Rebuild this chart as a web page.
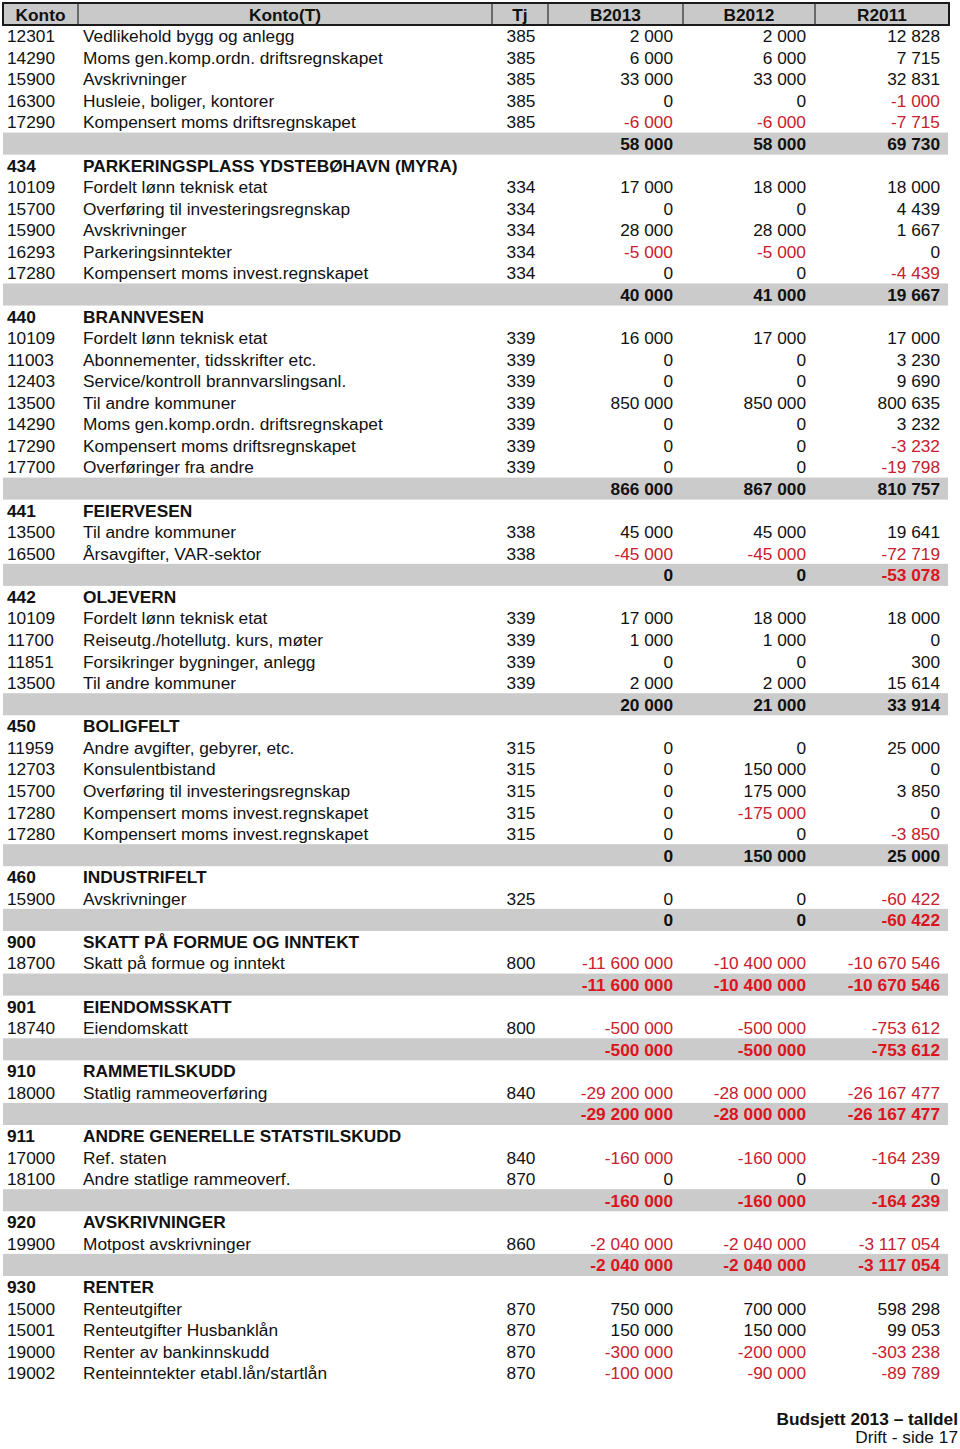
<!DOCTYPE html>
<html>
<head>
<meta charset="utf-8">
<script src="https://cdn.jsdelivr.net/npm/d3@7"></script>
<style>
  body { margin: 0; background: #fff; }
  svg text { font-family: 'Liberation Sans', Arial, Helvetica, sans-serif; }
</style>
</head>
<body>
<div id="table"></div>
<script>
// Column headers
const headers = ['Konto', 'Konto(T)', 'Tj', 'B2013', 'B2012', 'R2011'];

// Row kind: d = detail line, h = section heading, t = section total
const rowKind = [
  'd', 'd', 'd', 'd', 'd', 't',
  'h', 'd', 'd', 'd', 'd', 'd', 't',
  'h', 'd', 'd', 'd', 'd', 'd', 'd', 'd', 't',
  'h', 'd', 'd', 't',
  'h', 'd', 'd', 'd', 'd', 't',
  'h', 'd', 'd', 'd', 'd', 'd', 't',
  'h', 'd', 't',
  'h', 'd', 't',
  'h', 'd', 't',
  'h', 'd', 't',
  'h', 'd', 'd', 't',
  'h', 'd', 't',
  'h', 'd', 'd', 'd', 'd',
];

const konto = [
  '12301', '14290', '15900', '16300', '17290', '',
  '434', '10109', '15700', '15900', '16293', '17280', '',
  '440', '10109', '11003', '12403', '13500', '14290', '17290', '17700', '',
  '441', '13500', '16500', '',
  '442', '10109', '11700', '11851', '13500', '',
  '450', '11959', '12703', '15700', '17280', '17280', '',
  '460', '15900', '',
  '900', '18700', '',
  '901', '18740', '',
  '910', '18000', '',
  '911', '17000', '18100', '',
  '920', '19900', '',
  '930', '15000', '15001', '19000', '19002',
];

const kontoT = [
  'Vedlikehold bygg og anlegg', 'Moms gen.komp.ordn. driftsregnskapet', 'Avskrivninger',
  'Husleie, boliger, kontorer', 'Kompensert moms driftsregnskapet', '',
  'PARKERINGSPLASS YDSTEBØHAVN (MYRA)', 'Fordelt lønn teknisk etat',
  'Overføring til investeringsregnskap', 'Avskrivninger', 'Parkeringsinntekter',
  'Kompensert moms invest.regnskapet', '',
  'BRANNVESEN', 'Fordelt lønn teknisk etat', 'Abonnementer, tidsskrifter etc.',
  'Service/kontroll brannvarslingsanl.', 'Til andre kommuner',
  'Moms gen.komp.ordn. driftsregnskapet', 'Kompensert moms driftsregnskapet',
  'Overføringer fra andre', '',
  'FEIERVESEN', 'Til andre kommuner', 'Årsavgifter, VAR-sektor', '',
  'OLJEVERN', 'Fordelt lønn teknisk etat', 'Reiseutg./hotellutg. kurs, møter',
  'Forsikringer bygninger, anlegg', 'Til andre kommuner', '',
  'BOLIGFELT', 'Andre avgifter, gebyrer, etc.', 'Konsulentbistand',
  'Overføring til investeringsregnskap', 'Kompensert moms invest.regnskapet',
  'Kompensert moms invest.regnskapet', '',
  'INDUSTRIFELT', 'Avskrivninger', '',
  'SKATT PÅ FORMUE OG INNTEKT', 'Skatt på formue og inntekt', '',
  'EIENDOMSSKATT', 'Eiendomskatt', '',
  'RAMMETILSKUDD', 'Statlig rammeoverføring', '',
  'ANDRE GENERELLE STATSTILSKUDD', 'Ref. staten', 'Andre statlige rammeoverf.', '',
  'AVSKRIVNINGER', 'Motpost avskrivninger', '',
  'RENTER', 'Renteutgifter', 'Renteutgifter Husbanklån', 'Renter av bankinnskudd',
  'Renteinntekter etabl.lån/startlån',
];

const tj = [
  '385', '385', '385', '385', '385', '',
  '', '334', '334', '334', '334', '334', '',
  '', '339', '339', '339', '339', '339', '339', '339', '',
  '', '338', '338', '',
  '', '339', '339', '339', '339', '',
  '', '315', '315', '315', '315', '315', '',
  '', '325', '',
  '', '800', '',
  '', '800', '',
  '', '840', '',
  '', '840', '870', '',
  '', '860', '',
  '', '870', '870', '870', '870',
];

const b2013 = [
  2000, 6000, 33000, 0, -6000, 58000,
  null, 17000, 0, 28000, -5000, 0, 40000,
  null, 16000, 0, 0, 850000, 0, 0, 0, 866000,
  null, 45000, -45000, 0,
  null, 17000, 1000, 0, 2000, 20000,
  null, 0, 0, 0, 0, 0, 0,
  null, 0, 0,
  null, -11600000, -11600000,
  null, -500000, -500000,
  null, -29200000, -29200000,
  null, -160000, 0, -160000,
  null, -2040000, -2040000,
  null, 750000, 150000, -300000, -100000,
];

const b2012 = [
  2000, 6000, 33000, 0, -6000, 58000,
  null, 18000, 0, 28000, -5000, 0, 41000,
  null, 17000, 0, 0, 850000, 0, 0, 0, 867000,
  null, 45000, -45000, 0,
  null, 18000, 1000, 0, 2000, 21000,
  null, 0, 150000, 175000, -175000, 0, 150000,
  null, 0, 0,
  null, -10400000, -10400000,
  null, -500000, -500000,
  null, -28000000, -28000000,
  null, -160000, 0, -160000,
  null, -2040000, -2040000,
  null, 700000, 150000, -200000, -90000,
];

const r2011 = [
  12828, 7715, 32831, -1000, -7715, 69730,
  null, 18000, 4439, 1667, 0, -4439, 19667,
  null, 17000, 3230, 9690, 800635, 3232, -3232, -19798, 810757,
  null, 19641, -72719, -53078,
  null, 18000, 0, 300, 15614, 33914,
  null, 25000, 0, 3850, 0, -3850, 25000,
  null, -60422, -60422,
  null, -10670546, -10670546,
  null, -753612, -753612,
  null, -26167477, -26167477,
  null, -164239, 0, -164239,
  null, -3117054, -3117054,
  null, 598298, 99053, -303238, -89789,
];

const footerTitle = 'Budsjett 2013 – talldel';
const footerSub = 'Drift - side 17';

// Layout
const width = 960;
const height = 1449;
const fontSize = 17.3;
const colEdges = [3, 78, 492, 548, 683, 815, 949];
const black = '#111';
const redNormal = '#c8202c';
const redBold = '#dc1420';

const locale = d3.formatLocale({
  decimal: ',',
  thousands: '\u00a0',
  grouping: [3],
  currency: ['', ''],
  minus: '-',
});
const fmt = locale.format(',d');

const svg = d3
  .select('#table')
  .append('svg')
  .attr('width', width)
  .attr('height', height);

// Row centre position from row index
const y = d3
  .scaleLinear()
  .domain([0, rowKind.length - 1])
  .range([36, 1373]);
const rowH = y(1) - y(0);

const rows = rowKind.map((k, i) => ({
  i: i,
  kind: k,
  konto: konto[i],
  name: kontoT[i],
  tj: tj[i],
  vals: [b2013[i], b2012[i], r2011[i]],
}));

// Grey bands behind totals
svg
  .selectAll('.band')
  .data(rows.filter((d) => d.kind === 't'))
  .enter()
  .append('rect')
  .attr('class', 'band')
  .attr('x', 3)
  .attr('y', (d) => y(d.i) - rowH / 2 - 0.5)
  .attr('width', 945)
  .attr('height', rowH + 0.5)
  .attr('fill', '#cbcbcb');

// Header
const head = svg.append('g');
head
  .append('rect')
  .attr('x', colEdges[0])
  .attr('y', 3)
  .attr('width', colEdges[6] - colEdges[0])
  .attr('height', 22)
  .attr('fill', '#c9c9c9')
  .attr('stroke', '#1a1a1a')
  .attr('stroke-width', 2);

head
  .selectAll('line')
  .data(colEdges.slice(1, -1))
  .enter()
  .append('line')
  .attr('x1', (d) => d)
  .attr('x2', (d) => d)
  .attr('y1', 3)
  .attr('y2', 25)
  .attr('stroke', '#2a2a2a')
  .attr('stroke-width', 1.2);

head
  .selectAll('text')
  .data(headers)
  .enter()
  .append('text')
  .attr('x', (d, i) => (colEdges[i] + colEdges[i + 1]) / 2)
  .attr('y', 20.5)
  .attr('text-anchor', 'middle')
  .style('font-size', fontSize + 'px')
  .style('font-weight', 'bold')
  .attr('fill', black)
  .text((d) => d);

// Body rows
const body = svg
  .selectAll('.row')
  .data(rows)
  .enter()
  .append('g')
  .attr('class', 'row')
  .attr('transform', (d) => 'translate(0,' + (y(d.i) + 6.2) + ')');

body
  .append('text')
  .attr('x', 7)
  .style('font-size', fontSize + 'px')
  .style('font-weight', (d) => (d.kind === 'h' ? 'bold' : 'normal'))
  .attr('fill', black)
  .text((d) => d.konto);

body
  .append('text')
  .attr('x', 83)
  .style('font-size', fontSize + 'px')
  .style('font-weight', (d) => (d.kind === 'h' ? 'bold' : 'normal'))
  .attr('fill', black)
  .text((d) => d.name);

body
  .append('text')
  .attr('x', (colEdges[2] + colEdges[3]) / 2 + 1)
  .attr('text-anchor', 'middle')
  .style('font-size', fontSize + 'px')
  .attr('fill', black)
  .text((d) => d.tj);

const valueRight = [673, 806, 940];
body
  .selectAll('.val')
  .data((d) =>
    d.vals.map((v, j) => ({ v: v, j: j, bold: d.kind === 't' })),
  )
  .enter()
  .filter((d) => d.v !== null)
  .append('text')
  .attr('class', 'val')
  .attr('x', (d) => valueRight[d.j])
  .attr('text-anchor', 'end')
  .style('font-size', fontSize + 'px')
  .style('font-weight', (d) => (d.bold ? 'bold' : 'normal'))
  .attr('fill', (d) => (d.v < 0 ? (d.bold ? redBold : redNormal) : black))
  .text((d) => fmt(d.v));

// Footer
svg
  .append('text')
  .attr('x', 958)
  .attr('y', 1425)
  .attr('text-anchor', 'end')
  .style('font-size', fontSize + 'px')
  .style('font-weight', 'bold')
  .attr('fill', black)
  .text(footerTitle);

svg
  .append('text')
  .attr('x', 958)
  .attr('y', 1443)
  .attr('text-anchor', 'end')
  .style('font-size', fontSize + 'px')
  .attr('fill', black)
  .text(footerSub);
</script>
</body>
</html>
